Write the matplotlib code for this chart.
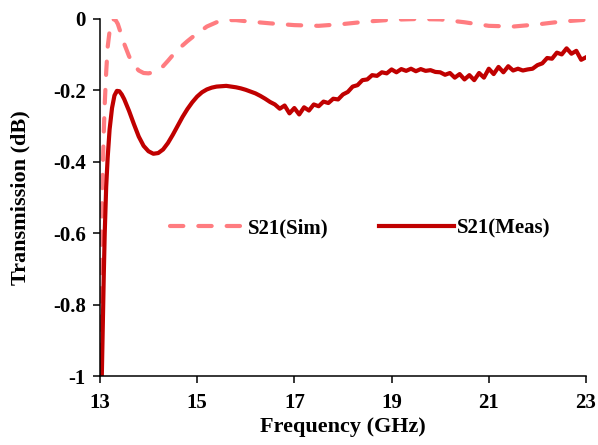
import numpy as np
import matplotlib
matplotlib.use("Agg")
import matplotlib.pyplot as plt

# Simulated S21
f_sim = [13.0, 13.02, 13.04, 13.06, 13.08, 13.1, 13.13, 13.16, 13.2, 13.24,
         13.28, 13.32, 13.37, 13.43, 13.5, 13.6, 13.7, 13.8, 13.9, 14.0,
         14.1, 14.2, 14.3, 14.4, 14.5, 14.6, 14.7, 14.8, 14.9, 15.0,
         15.2, 15.4, 15.6, 15.8, 16.0, 16.5, 17.0, 17.5, 18.0, 18.5,
         19.0, 19.5, 20.0, 20.5, 21.0, 21.5, 22.0, 22.5, 23.0]
s21_sim = [-0.95, -0.75, -0.55, -0.42, -0.32, -0.24, -0.15, -0.08, -0.035, -0.01,
           -0.002, -0.003, -0.015, -0.04, -0.07, -0.105, -0.13, -0.145, -0.152, -0.153,
           -0.15, -0.143, -0.133, -0.118, -0.102, -0.088, -0.075, -0.063, -0.052, -0.042,
           -0.022, -0.01, -0.004, -0.004, -0.007, -0.013, -0.018, -0.02, -0.015, -0.008,
           -0.003, -0.001, -0.002, -0.01, -0.02, -0.022, -0.016, -0.008, -0.003]

# Measured S21
f_meas = [13.04, 13.06, 13.08, 13.1, 13.13, 13.16, 13.2, 13.25, 13.3, 13.35,
          13.4, 13.45, 13.5, 13.6, 13.7, 13.8, 13.9, 14.0, 14.1, 14.2,
          14.3, 14.4, 14.5, 14.6, 14.7, 14.8, 14.9, 15.0, 15.1, 15.2,
          15.3, 15.4, 15.5, 15.6, 15.7, 15.8, 15.9, 16.0, 16.1, 16.2,
          16.3, 16.4, 16.5, 16.6, 16.7, 16.8, 16.9, 17.0, 17.1, 17.2,
          17.3, 17.4, 17.5, 17.6, 17.7, 17.8, 17.9, 18.0, 18.1, 18.2,
          18.3, 18.4, 18.5, 18.6, 18.7, 18.8, 18.9, 19.0, 19.1, 19.2,
          19.3, 19.4, 19.5, 19.6, 19.7, 19.8, 19.9, 20.0, 20.1, 20.2,
          20.3, 20.4, 20.5, 20.6, 20.7, 20.8, 20.9, 21.0, 21.1, 21.2,
          21.3, 21.4, 21.5, 21.6, 21.7, 21.8, 21.9, 22.0, 22.1, 22.2,
          22.3, 22.4, 22.5, 22.6, 22.7, 22.8, 22.9, 23.0]
s21_meas = [-1.0, -0.86, -0.72, -0.6, -0.47, -0.39, -0.31, -0.25, -0.215, -0.202,
            -0.203, -0.212, -0.225, -0.258, -0.295, -0.33, -0.356, -0.371, -0.378, -0.376,
            -0.366, -0.348, -0.325, -0.3, -0.275, -0.253, -0.234, -0.218, -0.206, -0.198,
            -0.193, -0.19, -0.189, -0.188, -0.19, -0.192, -0.195, -0.199, -0.204, -0.209,
            -0.216, -0.224, -0.233, -0.24, -0.252, -0.243, -0.265, -0.25, -0.268, -0.248,
            -0.257, -0.24, -0.245, -0.232, -0.236, -0.224, -0.226, -0.212, -0.205, -0.19,
            -0.186, -0.172, -0.17, -0.158, -0.16, -0.15, -0.153, -0.142, -0.15, -0.141,
            -0.146, -0.14, -0.147, -0.141, -0.146, -0.144, -0.149, -0.15, -0.157, -0.152,
            -0.165, -0.155, -0.17, -0.158, -0.172, -0.152, -0.165, -0.14, -0.155, -0.135,
            -0.15, -0.133, -0.145, -0.14, -0.145, -0.142, -0.14, -0.13, -0.125, -0.11,
            -0.112, -0.095, -0.1, -0.083, -0.098, -0.09, -0.115, -0.108]

x_ticks = [13, 15, 17, 19, 21, 23]
y_ticks = [0, -0.2, -0.4, -0.6, -0.8, -1]
y_tick_labels = ["0", "-0.2", "-0.4", "-0.6", "-0.8", "-1"]

plt.rcParams['font.family'] = ['Liberation Serif', 'DejaVu Serif']
plt.rcParams['font.weight'] = 'bold'

fig = plt.figure(figsize=(5.98, 4.45), dpi=100)
ax = fig.add_axes([0.167, 0.155, 0.813, 0.803])

ax.plot(f_sim, s21_sim, color='#FF7C80', linewidth=3.0, dashes=(3.2, 3.6),
        dash_capstyle='round', label='S21(Sim)')
ax.plot(f_meas, s21_meas, color='#C00000', linewidth=3.0, label='S21(Meas)')

ax.set_xlim(13, 23)
ax.set_ylim(-1, 0)
ax.set_xticks(x_ticks)
ax.set_yticks(y_ticks)
ax.set_yticklabels(y_tick_labels)
ax.tick_params(direction='out', length=5, width=1.1, labelsize=15)
ax.tick_params(axis='x', pad=7)
ax.tick_params(axis='y', pad=5)
for lab in ax.get_xticklabels() + ax.get_yticklabels():
    lab.set_fontweight('bold')

ax.spines['top'].set_visible(False)
ax.spines['right'].set_visible(False)
ax.spines['left'].set_linewidth(1.1)
ax.spines['bottom'].set_linewidth(1.1)

ax.set_xlabel('Frequency (GHz)', fontsize=16, fontweight='bold', labelpad=3)
ax.set_ylabel('Transmission (dB)', fontsize=16, fontweight='bold', labelpad=16)

ax.legend(loc='center', bbox_to_anchor=(0.535, 0.414), ncol=2, frameon=False,
          handlelength=3.6, handletextpad=0.15, columnspacing=2.4,
          prop={'weight': 'bold', 'size': 15})

fig.savefig('out.png', dpi=100)
